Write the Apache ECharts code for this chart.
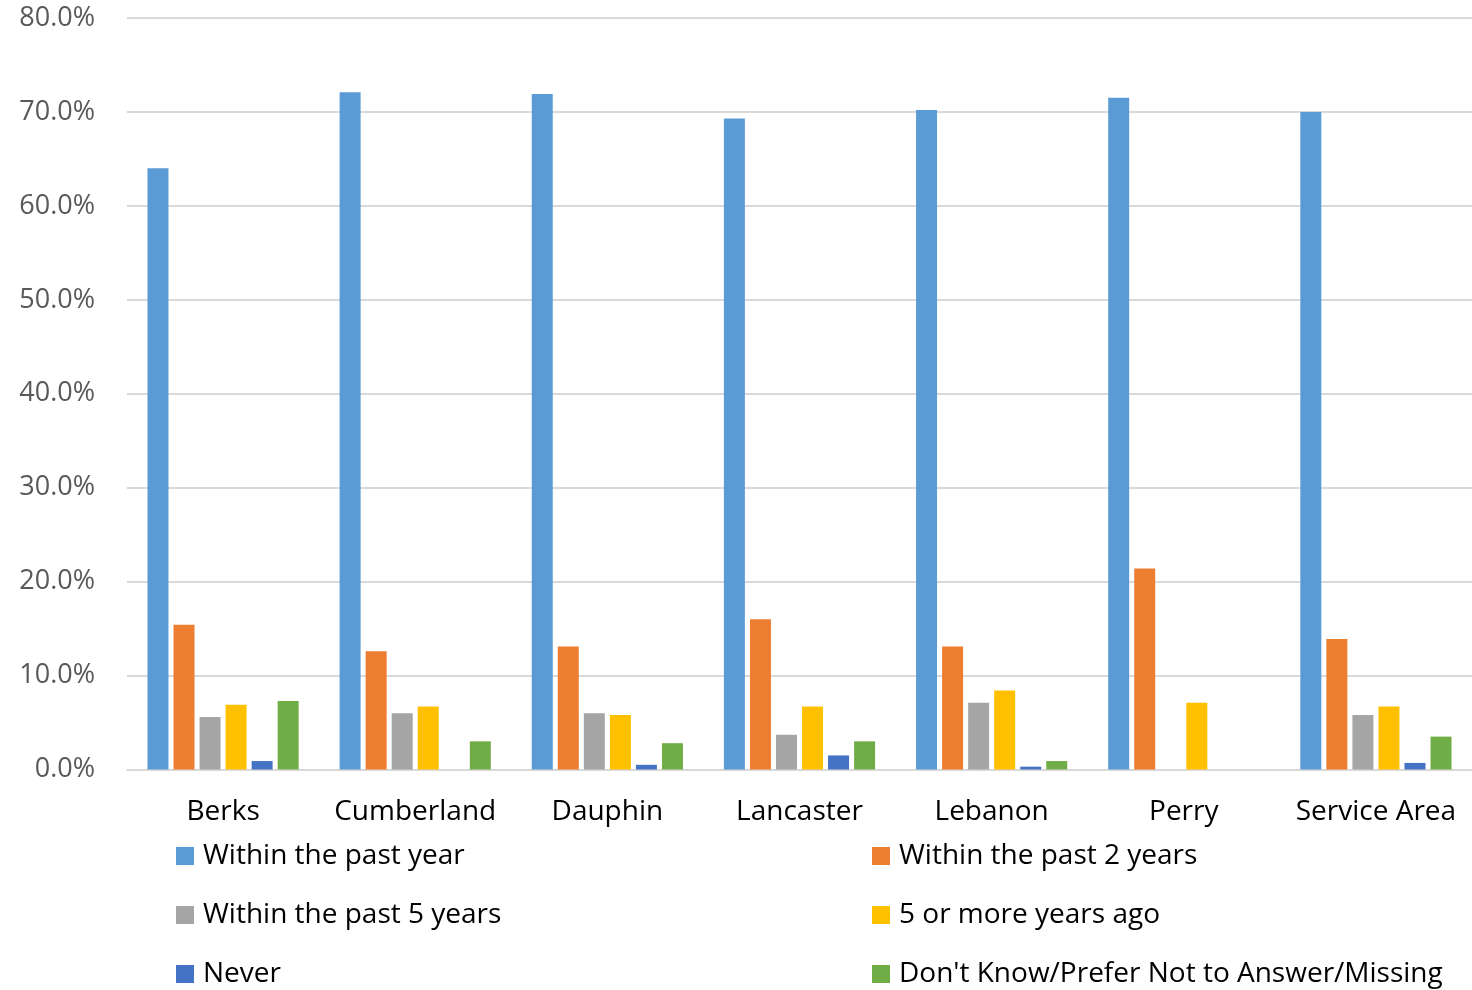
<!DOCTYPE html>
<html>
<head>
<meta charset="utf-8">
<script src="https://cdn.jsdelivr.net/npm/echarts@6/dist/echarts.min.js"></script>
<style>
html,body{margin:0;padding:0;background:#fff;}
#chart{width:1472px;height:990px;}
</style>
</head>
<body>
<div id="chart"></div>
<script>
const categories = ['Berks', 'Cumberland', 'Dauphin', 'Lancaster', 'Lebanon', 'Perry', 'Service Area'];
const seriesNames = ['Within the past year', 'Within the past 2 years', 'Within the past 5 years', '5 or more years ago', 'Never', "Don't Know/Prefer Not to Answer/Missing"];
const pastYear = [64.0, 72.1, 71.9, 69.3, 70.2, 71.5, 70.0];
const past2Years = [15.4, 12.6, 13.1, 16.0, 13.1, 21.4, 13.9];
const past5Years = [5.6, 6.0, 6.0, 3.7, 7.1, 0, 5.8];
const fiveOrMore = [6.9, 6.7, 5.8, 6.7, 8.4, 7.1, 6.7];
const never = [0.9, 0, 0.5, 1.5, 0.3, 0, 0.7];
const dontKnow = [7.3, 3.0, 2.8, 3.0, 0.9, 0, 3.5];
const colors = ['#5B9BD5', '#ED7D31', '#A5A5A5', '#FFC000', '#4472C4', '#70AD47'];
const yTicks = [0, 10, 20, 30, 40, 50, 60, 70, 80];

const allData = [pastYear, past2Years, past5Years, fiveOrMore, never, dontKnow];
const font = '"Open Sans", Lato, sans-serif';

const chart = echarts.init(document.getElementById('chart'), null, {renderer: 'canvas'});
// legend layout: two columns, three rows
const legendLefts = [176, 872];
const legendTops = [841, 900, 959];
const legends = seriesNames.map((name, i) => ({
  left: legendLefts[i % 2],
  top: legendTops[Math.floor(i / 2)],
  padding: 0,
  orient: 'horizontal',
  itemWidth: 18,
  itemHeight: 18,
  icon: 'rect',
  selectedMode: false,
  data: [name],
  textStyle: {fontFamily: font, fontSize: 28, color: '#000', lineHeight: 30, padding: [0, 0, 0, 4]}
}));
chart.setOption({
  animation: false,
  color: colors,
  grid: {left: 127, right: 0, top: 18, bottom: 220.5, containLabel: false},
  legend: legends,
  xAxis: {
    type: 'category',
    data: categories,
    axisTick: {show: false},
    axisLine: {lineStyle: {color: '#d9d9d9', width: 2}},
    axisLabel: {interval: 0, fontFamily: font, fontSize: 28, color: '#000', margin: 29}
  },
  yAxis: {
    type: 'value',
    min: yTicks[0],
    max: yTicks[yTicks.length - 1],
    interval: 10,
    axisLine: {show: false},
    axisTick: {show: false},
    splitLine: {lineStyle: {color: '#d9d9d9', width: 2}},
    axisLabel: {fontFamily: font, fontSize: 27, color: '#595959', margin: 32,
      formatter: v => v.toFixed(1) + '%'}
  },
  series: seriesNames.map((name, i) => ({
    name: name,
    type: 'bar',
    data: allData[i],
    barWidth: 21,
    barGap: '24%',
    itemStyle: {color: colors[i]}
  }))
});
</script>
</body>
</html>
